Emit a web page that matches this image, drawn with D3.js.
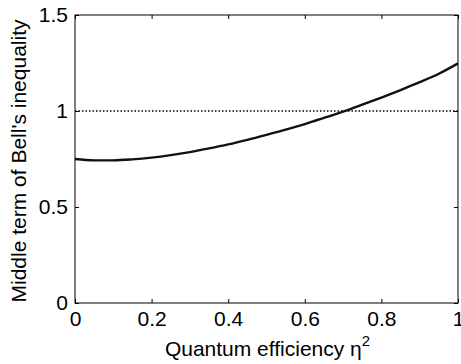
<!DOCTYPE html>
<html><head><meta charset="utf-8">
<script src="https://cdn.jsdelivr.net/npm/d3@7"></script>
<style>body{margin:0;background:#fff}svg{display:block}text{font-family:"Liberation Sans",Arial,Helvetica,sans-serif;fill:#000}</style>
</head><body>
<script>
const etaSq = [0,0.05,0.1,0.15,0.2,0.25,0.3,0.35,0.4,0.45,0.5,0.55,0.6,0.65,0.7,0.75,0.8,0.85,0.9,0.95,1.0];
const middleTerm = [0.750,0.743,0.743,0.748,0.757,0.770,0.786,0.805,0.826,0.850,0.876,0.903,0.932,0.964,0.997,1.033,1.070,1.109,1.150,1.194,1.248];
const bellBound = [1,1];
const xTicks = [0,0.2,0.4,0.6,0.8,1];
const yTicks = [0,0.5,1,1.5];
const xTickLabels = ["0","0.2","0.4","0.6","0.8","1"];
const yTickLabels = ["0","0.5","1","1.5"];

const W=461,H=364, L=75,R=458,T=15,B=303;
const svg=d3.select("body").append("svg").attr("width",W).attr("height",H);
const x=d3.scaleLinear().domain([0,1]).range([L,R]);
const y=d3.scaleLinear().domain([0,1.5]).range([B,T]);
const fs=21;

svg.append("rect").attr("x",L).attr("y",T).attr("width",R-L).attr("height",B-T)
  .attr("fill","none").attr("stroke","#000").attr("stroke-width",1);

const xb=svg.append("g").attr("transform",`translate(0,${B})`)
  .call(d3.axisBottom(x).tickValues(xTicks).tickFormat((d,i)=>xTickLabels[i]).tickSizeInner(-4).tickSizeOuter(0).tickPadding(8));
const xt=svg.append("g").attr("transform",`translate(0,${T})`)
  .call(d3.axisTop(x).tickValues(xTicks).tickFormat("").tickSizeInner(-4).tickSizeOuter(0));
const yl=svg.append("g").attr("transform",`translate(${L},0)`)
  .call(d3.axisLeft(y).tickValues(yTicks).tickFormat((d,i)=>yTickLabels[i]).tickSizeInner(-4).tickSizeOuter(0).tickPadding(7));
const yr=svg.append("g").attr("transform",`translate(${R},0)`)
  .call(d3.axisRight(y).tickValues(yTicks).tickFormat("").tickSizeInner(-4).tickSizeOuter(0));
[xb,xt,yl,yr].forEach(g=>{g.select(".domain").remove();
  g.selectAll("line").attr("stroke","#000");
  g.selectAll("text").attr("font-size",fs).attr("font-family","Liberation Sans, Arial, sans-serif").attr("fill","#000");});
xb.selectAll("text").attr("dy","0.71em");

svg.append("path").datum(bellBound)
  .attr("d",d3.line().x((d,i)=>x(i)).y(d=>y(d)))
  .attr("fill","none").attr("stroke","#000").attr("stroke-width",1.5).attr("stroke-dasharray","1.5,2");

svg.append("path").datum(etaSq.map((e,i)=>[e,middleTerm[i]]))
  .attr("d",d3.line().x(d=>x(d[0])).y(d=>y(d[1])).curve(d3.curveMonotoneX))
  .attr("fill","none").attr("stroke","#111").attr("stroke-width",2.4);

const xl=svg.append("text").attr("x",(L+R)/2+1).attr("y",356).attr("text-anchor","middle").attr("font-size",fs);
xl.append("tspan").text("Quantum efficiency η");
xl.append("tspan").attr("font-size",15).attr("dy",-10).text("2");
svg.append("text").attr("transform",`translate(26,${(T+B)/2+2}) rotate(-90)`).attr("text-anchor","middle")
  .attr("font-size",fs).text("Middle term of Bell's inequality");
</script>
</body></html>
